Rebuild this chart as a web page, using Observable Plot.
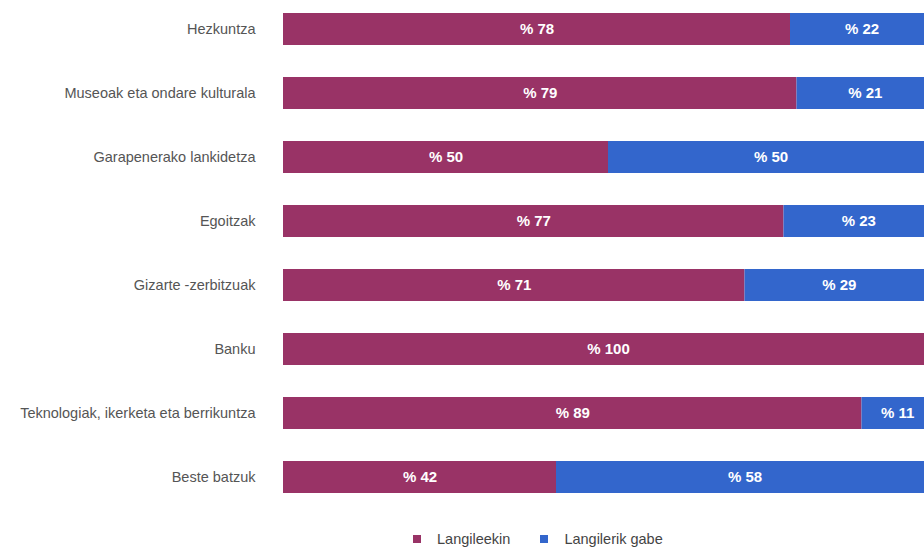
<!DOCTYPE html>
<html>
<head>
<meta charset="utf-8">
<script src="https://cdn.jsdelivr.net/npm/d3@7"></script>
<script src="https://cdn.jsdelivr.net/npm/@observablehq/plot@0.6"></script>
<style>
  html, body { margin: 0; padding: 0; background: #fff; overflow: hidden; width: 924px; height: 548px; }
  body { font-family: "Liberation Sans", Arial, sans-serif; }
  #chart svg { overflow: hidden; }
  .legend { position: absolute; top: 531px; left: 413px; display: flex; align-items: center; font-size: 14.5px; color: #444; }
  .legend .item { display: flex; align-items: center; margin-right: 30px; }
  .legend .sw { width: 8px; height: 8px; margin-right: 16px; }
</style>
</head>
<body>
<div id="chart"></div>
<script>
// Sectors, share of organisations with and without staff (%)
const categories = [
  "Hezkuntza",
  "Museoak eta ondare kulturala",
  "Garapenerako lankidetza",
  "Egoitzak",
  "Gizarte -zerbitzuak",
  "Banku",
  "Teknologiak, ikerketa eta berrikuntza",
  "Beste batzuk"
];
const withStaff    = [78, 79, 50, 77, 71, 100, 89, 42];
const withoutStaff = [22, 21, 50, 23, 29, 0, 11, 58];
const seriesNames  = ["Langileekin", "Langilerik gabe"];
const seriesColors = ["#993366", "#3366cc"];

const rows = [];
categories.forEach((c, i) => {
  rows.push({category: c, series: seriesNames[0], value: withStaff[i]});
  rows.push({category: c, series: seriesNames[1], value: withoutStaff[i]});
});
const labelled = rows.filter(d => d.value > 0);

const chart = Plot.plot({
  width: 924,
  height: 510,
  marginTop: 12,
  marginBottom: 17,
  marginLeft: 283,
  marginRight: 0,
  style: {fontFamily: "'Liberation Sans', Arial, sans-serif", background: "#fff"},
  x: {domain: [0, 100], range: [283, 933], axis: null},
  y: {domain: categories, paddingInner: 0.5, paddingOuter: 0, label: null},
  color: {domain: seriesNames, range: seriesColors},
  marks: [
    Plot.barX(rows, Plot.stackX({x: "value", y: "category", fill: "series", order: seriesNames})),
    Plot.textX(labelled, Plot.stackX({
      x: "value", y: "category", z: "series", order: seriesNames,
      text: d => "% " + d.value,
      fill: "white", fontWeight: "bold", fontSize: 15
    })),
    Plot.axisY({tickSize: 0, tickPadding: 28, fontSize: 14.5, color: "#555", label: null})
  ]
});
document.getElementById("chart").appendChild(chart);

const legend = document.createElement("div");
legend.className = "legend";
seriesNames.forEach((name, i) => {
  const item = document.createElement("div");
  item.className = "item";
  const sw = document.createElement("span");
  sw.className = "sw";
  sw.style.background = seriesColors[i];
  const label = document.createElement("span");
  label.textContent = name;
  item.appendChild(sw);
  item.appendChild(label);
  legend.appendChild(item);
});
document.body.appendChild(legend);
</script>
</body>
</html>
